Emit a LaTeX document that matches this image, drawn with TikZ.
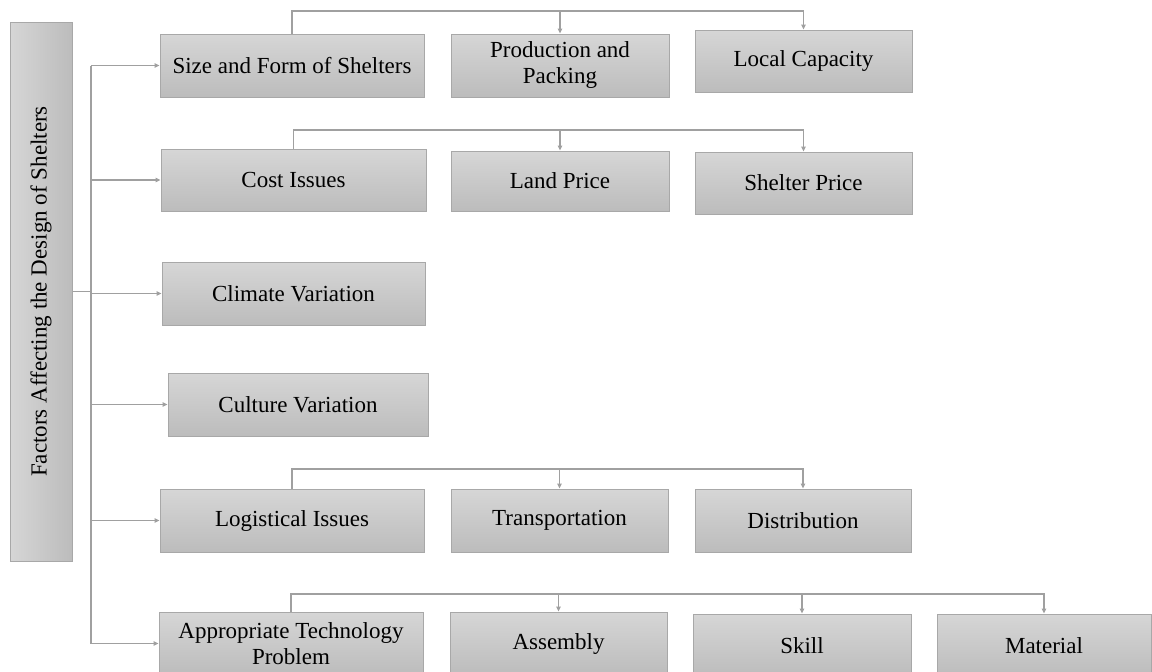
\documentclass[tikz,border=0pt]{standalone}
\usepackage{fontspec}
\setmainfont{Liberation Serif}
\usetikzlibrary{arrows.meta}
\definecolor{boxtop}{HTML}{D6D6D6}
\definecolor{boxbot}{HTML}{BCBCBC}
\definecolor{boxline}{HTML}{A8A8A8}
\definecolor{linkgray}{HTML}{A0A0A0}
\begin{document}
\begin{tikzpicture}[x=1pt,y=-1pt,
  box/.style={draw=boxline,line width=1pt,top color=boxtop,bottom color=boxbot,
    inner sep=0pt,align=center,text=black,font=\fontsize{23}{26}\selectfont},
  rootbox/.style={draw=boxline,line width=1pt,left color=boxtop,right color=boxbot,
    inner sep=0pt,text=black,font=\fontsize{23}{26}\selectfont},
  link/.style={draw=linkgray,line width=1.3pt},
  arrowlink/.style={link,-{Triangle[length=5pt,width=4.5pt]}}]
\useasboundingbox (0,0) rectangle (1152,672);

% root box
\node[rootbox,minimum width=62pt,minimum height=539pt] (root) at (41,291.5)
  {\rotatebox{90}{Factors Affecting the Design of Shelters}};

% first-level factors
\node[box,minimum width=264pt,minimum height=63pt] (size) at (292,65.5) {Size and Form of Shelters};
\node[box,minimum width=265pt,minimum height=62pt] (cost) at (293.5,180) {Cost Issues};
\node[box,minimum width=263pt,minimum height=63pt] (climate) at (293.5,293.5) {Climate Variation};
\node[box,minimum width=260pt,minimum height=63pt] (culture) at (298,404.5) {Culture Variation};
\node[box,minimum width=264pt,minimum height=63pt] (logist) at (292,520.5) {Logistical Issues};
\node[box,minimum width=264pt,minimum height=63pt] (approp) at (291,643.5) {Appropriate Technology\\Problem};

% sub-factors
\node[box,minimum width=218pt,minimum height=63pt] (prod) at (560,65.5) {Production and\\Packing};
\node[box,minimum width=217pt,minimum height=62pt] (local) at (803.5,61) {Local Capacity};
\node[box,minimum width=218pt,minimum height=60pt] (land) at (560,181) {Land Price};
\node[box,minimum width=217pt,minimum height=62pt] (shelter) at (803.5,183) {Shelter Price};
\node[box,minimum width=217pt,minimum height=63pt] (transp) at (559.5,520.5) {Transportation};
\node[box,minimum width=216pt,minimum height=63pt] (distr) at (803,520.5) {Distribution};
\node[box,minimum width=217pt,minimum height=63pt] (assembly) at (558.5,643.5) {Assembly};
\node[box,minimum width=218pt,minimum height=63pt] (skill) at (802,645.5) {Skill};
\node[box,minimum width=214pt,minimum height=63pt] (material) at (1044,645.5) {Material};

% trunk from the root to every factor
\coordinate (trunk) at (91,0);
\draw[link] (root.east) -- (trunk |- root.east);
\draw[link] (trunk |- size.west) -- (trunk |- approp.west);
\foreach \n in {size,cost,climate,culture,logist,approp}
  \draw[arrowlink] (trunk |- \n.west) -- (\n.west);

% buses above each row of sub-factors
\coordinate (bus1) at (0,11);
\coordinate (bus2) at (0,130);
\coordinate (bus5) at (0,469);
\coordinate (bus6) at (0,594);

\draw[arrowlink] (size.north) -- (size.north |- bus1) -- (local.north |- bus1) -- (local.north);
\draw[arrowlink] (prod.north |- bus1) -- (prod.north);

\draw[arrowlink] (cost.north) -- (cost.north |- bus2) -- (shelter.north |- bus2) -- (shelter.north);
\draw[arrowlink] (land.north |- bus2) -- (land.north);

\draw[arrowlink] (logist.north) -- (logist.north |- bus5) -- (distr.north |- bus5) -- (distr.north);
\draw[arrowlink] (transp.north |- bus5) -- (transp.north);

\draw[arrowlink] (approp.north) -- (approp.north |- bus6) -- (material.north |- bus6) -- (material.north);
\draw[arrowlink] (assembly.north |- bus6) -- (assembly.north);
\draw[arrowlink] (skill.north |- bus6) -- (skill.north);
\end{tikzpicture}
\end{document}
